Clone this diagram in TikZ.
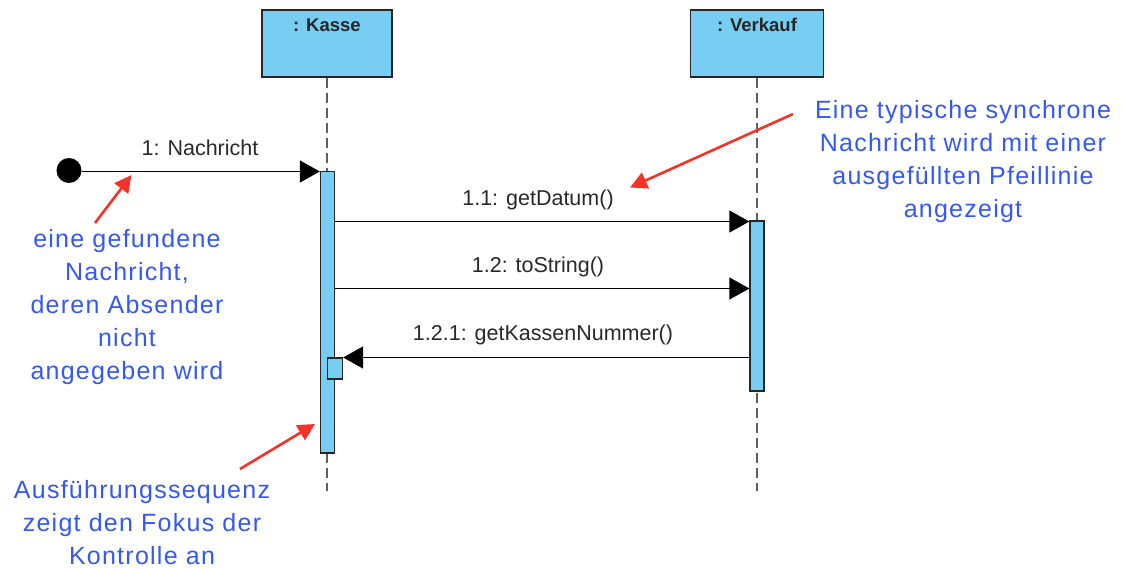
\documentclass[tikz,border=0pt]{standalone}
\usepackage{fontspec}
\setmainfont{Liberation Sans}
\newfontfamily\annfont[LetterSpace=5]{Liberation Sans}
\usetikzlibrary{arrows.meta}
\definecolor{boxblue}{HTML}{78CDF3}
\definecolor{annblue}{RGB}{52,88,240}
\definecolor{annred}{RGB}{245,50,40}
\definecolor{lifegray}{RGB}{95,95,95}
\definecolor{msgtext}{RGB}{40,40,40}
\begin{document}
\begin{tikzpicture}[x=1pt,y=-1pt,
  lifebox/.style={draw=black!85, line width=1.6pt, fill=boxblue, minimum width=130pt, minimum height=67pt, inner sep=0pt},
  boxlabel/.style={font=\bfseries\fontsize{18.5}{22}\selectfont, text=black!85, inner sep=0pt},
  lifeline/.style={draw=lifegray, line width=1.8pt, dash pattern=on 10pt off 5pt},
  actbar/.style={draw=black!85, line width=1.3pt, fill=boxblue, minimum width=14pt, inner sep=0pt},
  msg/.style={draw=black, line width=1.4pt, -{Triangle[length=20pt,width=22pt]}},
  msglabel/.style={font=\fontsize{21.5}{26}\selectfont, text=msgtext, inner sep=0pt},
  ann/.style={font=\annfont\fontsize{25}{33}\selectfont, text=annblue, align=center, inner sep=0pt},
  redarrow/.style={draw=annred, line width=2.6pt, -{Triangle[length=17pt,width=17pt]}}
]
\useasboundingbox (0,0) rectangle (1121,569);

% lifeline heads
\node[lifebox] (kasse) at (327,43.5) {};
\node[boxlabel, anchor=center] (kasselbl) at (327,25) {: Kasse};
\node[lifebox, minimum width=133pt] (verkauf) at (757,43.5) {};
\node[boxlabel, anchor=center] (verkauflbl) at (757,25) {: Verkauf};

\coordinate (lend) at (0,491);
\draw[lifeline] (kasse.south) -- (kasse.south |- lend);
\draw[lifeline] (verkauf.south) -- (verkauf.south |- lend);

% activation bars
\node[actbar, minimum height=281.5pt] (actK) at (327.5,312.25) {};
\node[actbar, minimum height=170pt] (actV) at (757,306) {};
\node[actbar, minimum width=15pt, minimum height=21pt] (actK2) at (335,368.5) {};

% found message
\node[circle, fill=black, minimum size=25pt, inner sep=0pt] (found) at (69,170.5) {};
\coordinate (y1) at (0,171.5);
\draw[msg] (found.east |- y1) -- (actK.west |- y1);
\node[msglabel] (l1) at (200,148) {1: Nachricht};

% messages
\coordinate (y2) at (0,221.5);
\draw[msg] (actK.east |- y2) -- (actV.west |- y2);
\node[msglabel] (l2) at (538,200) {1.1: getDatum()};

\coordinate (y3) at (0,288.5);
\draw[msg] (actK.east |- y3) -- (actV.west |- y3);
\node[msglabel] (l3) at (538,267) {1.2: toString()};

\coordinate (y4) at (0,357.5);
\draw[msg] (actV.west |- y4) -- (actK2.east |- y4);
\node[msglabel] (l4) at (543,335) {1.2.1: getKassenNummer()};

% annotations
\node[ann] (annR) at (963,162) {Eine typische synchrone\\Nachricht wird mit einer\\ausgefüllten Pfeillinie\\angezeigt};
\node[ann] (annL) at (127,307) {eine gefundene\\Nachricht,\\deren Absender\\nicht\\angegeben wird};
\node[ann] (annB) at (142,523) {Ausführungssequenz\\zeigt den Fokus der\\Kontrolle an};

\coordinate (rA1) at (95,223);
\coordinate (rA1t) at (131.5,175);
\draw[redarrow] (rA1) -- (rA1t);
\coordinate (rA2) at (793,114);
\coordinate (rA2t) at (630,187.5);
\draw[redarrow] (rA2) -- (rA2t);
\coordinate (rA3) at (240,469);
\coordinate (rA3t) at (315,424);
\draw[redarrow] (rA3) -- (rA3t);
\end{tikzpicture}
\end{document}
